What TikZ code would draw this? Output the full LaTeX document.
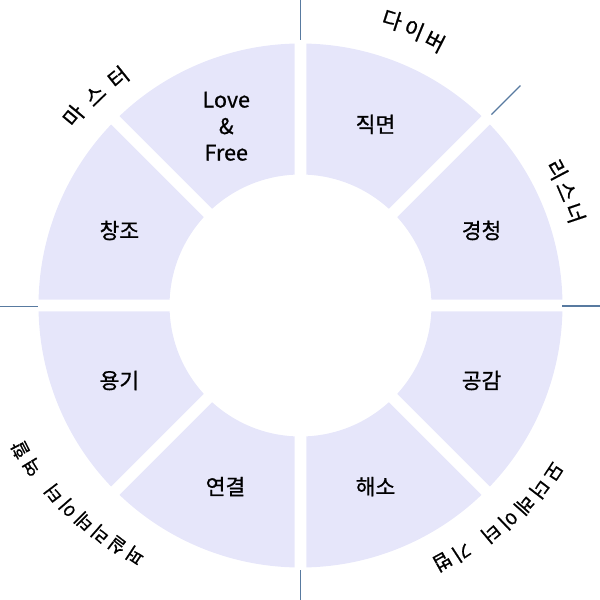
\documentclass[tikz,border=0pt]{standalone}
\usepackage{fontspec}
\setmainfont{Noto Sans CJK KR}[FakeBold=0.8]
\definecolor{seg}{RGB}{230,230,250}
\definecolor{tickc}{RGB}{88,122,160}
\begin{document}
\begin{tikzpicture}[x=1pt,y=1pt,
  segment/.style={fill=seg},
  inlabel/.style={font=\fontsize{21.5}{26.5}\selectfont, align=center, text=black},
  outchar/.style={font=\fontsize{21.5}{22}\selectfont, inner sep=0pt, text=black},
  outcharb/.style={font=\fontsize{19.5}{20}\selectfont, inner sep=0pt, text=black},
  outcharc/.style={font=\fontsize{18.5}{19}\selectfont, inner sep=0pt, text=black},
  tickline/.style={draw=tickc, line width=1.3pt}]
\useasboundingbox (-300.5,-294.5) rectangle (299.5,305.5);
\def\Ro{262}\def\Ri{131}\def\dO{1.312}\def\dI{2.625}
\foreach \a in {0,45,...,315}{
  \fill[segment] ({\a+\dO}:\Ro) arc[start angle={\a+\dO}, end angle={\a+45-\dO}, radius=\Ro]
    -- ({\a+45-\dI}:\Ri) arc[start angle={\a+45-\dI}, end angle={\a+\dI}, radius=\Ri] -- cycle;
}
% inner labels
\node[inlabel] (kc) at (22.5:196) {경청};
\node[inlabel] (jm) at (67.5:196) {직면};
\node[inlabel] (lf) at (112.5:194) {Love\\\&\\Free};
\node[inlabel] (cj) at (157.5:196) {창조};
\node[inlabel] (yg) at (202.5:196) {용기};
\node[inlabel] (yk) at (247.5:196) {연결};
\node[inlabel] (hs) at (292.5:196) {해소};
\node[inlabel] (gg) at (337.5:196) {공감};
% outer labels (characters along the ring, clockwise, tops outward)
\foreach \k/\c in {0/다,1/이,2/버}
  {\pgfmathsetmacro\t{72.2-\k*4.6}\pgfmathsetmacro\r{300-\k*2}
   \node[outchar, rotate=\t-90] (dv\k) at (\t:\r) {\c};}
\foreach \k/\c in {0/마,1/스,2/터}
  {\pgfmathsetmacro\t{140.1-\k*5.75}\pgfmathsetmacro\r{296-\k*2}
   \node[outchar, rotate=\t-90] (ms\k) at (\t:\r) {\c};}
\foreach \k/\c in {0/리,1/스,2/너}
  {\pgfmathsetmacro\t{27.9-\k*4.65}\pgfmathsetmacro\r{290-\k*0.2}
   \node[outchar, rotate=\t-90] (ls\k) at (\t:\r) {\c};}
\foreach \k/\c in {0/모,1/더,2/레,3/이,4/터,5.6/기,6.6/법}
  {\pgfmathsetmacro\t{-33.3-\k*4.2}\pgfmathsetmacro\r{303-\k*1.5}
   \node[outcharb, rotate=\t-90] at (\t:\r) {\c};}
\foreach \k/\c in {0/퍼,1/실,2/리,3/테,4/이,5/터,6.6/역,7.6/할}
  {\pgfmathsetmacro\t{236.5-\k*3.85}\pgfmathsetmacro\r{300+\k*2}
   \node[outcharc, rotate=\t-90] at (\t:\r) {\c};}
% tick lines
\coordinate (ta) at (90:265.5); \coordinate (tb) at (0,305.5);
\coordinate (ba) at (270:264.5); \coordinate (bb) at (0,-294.5);
\coordinate (la) at (-262.5,-1); \coordinate (lb) at (-300.5,-1);
\coordinate (ra) at (261.5,-0.5); \coordinate (rb) at (299.5,-0.5);
\coordinate (da) at (45:270); \coordinate (db) at (45:311);
\draw[tickline] (ta) -- (tb);
\draw[tickline] (ba) -- (bb);
\draw[tickline] (la) -- (lb);
\draw[tickline] (ra) -- (rb);
\draw[tickline] (da) -- (db);
\end{tikzpicture}
\end{document}
